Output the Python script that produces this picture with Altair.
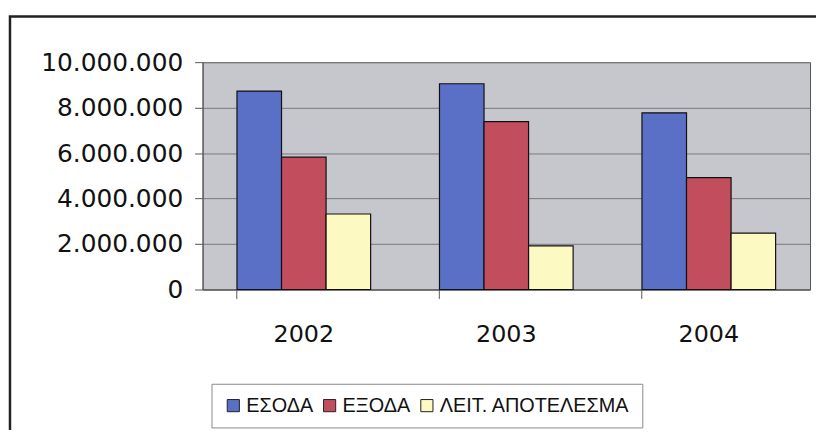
import altair as alt
import pandas as pd

years = ["2002", "2003", "2004"]
series = ["ΕΣΟΔΑ", "ΕΞΟΔΑ", "ΛΕΙΤ. ΑΠΟΤΕΛΕΣΜΑ"]
esoda = [8730000, 9050000, 7770000]
exoda = [5820000, 7380000, 4920000]
apotelesma = [3320000, 1920000, 2480000]
colors = ["#5a6fc6", "#c24d5d", "#fcf9c2"]
y_ticks = [0, 2000000, 4000000, 6000000, 8000000, 10000000]

rows = []
for i, y in enumerate(years):
    for s, vals in zip(series, [esoda, exoda, apotelesma]):
        rows.append({"year": y, "series": s, "value": vals[i]})
df = pd.DataFrame(rows)

bars = alt.Chart(df).mark_bar(stroke="#111111", strokeWidth=1.2).encode(
    x=alt.X("year:N", sort=years, title=None,
            scale=alt.Scale(paddingInner=0.34, paddingOuter=0.17),
            axis=alt.Axis(labelAngle=0, labelFont="DejaVu Sans", labelFontSize=24,
                          labelColor="#111111", bandPosition=0, tickSize=9,
                          tickColor="#555555", domainColor="#555555",
                          labelPadding=24, grid=False)),
    xOffset=alt.XOffset("series:N", sort=series),
    y=alt.Y("value:Q", title=None,
            scale=alt.Scale(domain=[0, 10000000], nice=False),
            axis=alt.Axis(values=y_ticks, labelFont="DejaVu Sans", labelFontSize=25,
                          labelColor="#111111", tickSize=8, tickColor="#555555",
                          domainColor="#555555", labelPadding=12,
                          gridColor="#7a7a7a", gridWidth=1,
                          labelExpr="replace(format(datum.value, ',d'), /,/g, '.')")),
    color=alt.Color("series:N", sort=series,
                    scale=alt.Scale(domain=series, range=colors),
                    legend=alt.Legend(title=None, orient="none", direction="horizontal",
                                      legendX=9, legendY=324,
                                      labelFont="Liberation Sans",
                                      labelFontSize=20, labelColor="#111111",
                                      labelLimit=0,
                                      symbolType="square", symbolSize=150,
                                      symbolStrokeColor="#222222", symbolStrokeWidth=1,
                                      strokeColor="#888888", padding=12,
                                      columnPadding=6, labelOffset=3)),
)

frame = alt.Chart(pd.DataFrame({"a": [0]})).mark_rect(
    fill=None, stroke="#222222", strokeWidth=2.5, clip=False
).encode(x=alt.value(-194), x2=alt.value(700), y=alt.value(-46), y2=alt.value(400))

chart = alt.layer(frame, bars).properties(
    width=612, height=229,
    autosize=alt.AutoSizeParams(type="none"),
    padding={"left": 196, "top": 53, "right": 6, "bottom": 140},
    background="white",
).configure_view(fill="#c6c7cc", stroke="#555555", strokeWidth=1)

chart.save("out.html", embed_options={"renderer": "svg", "actions": False})
